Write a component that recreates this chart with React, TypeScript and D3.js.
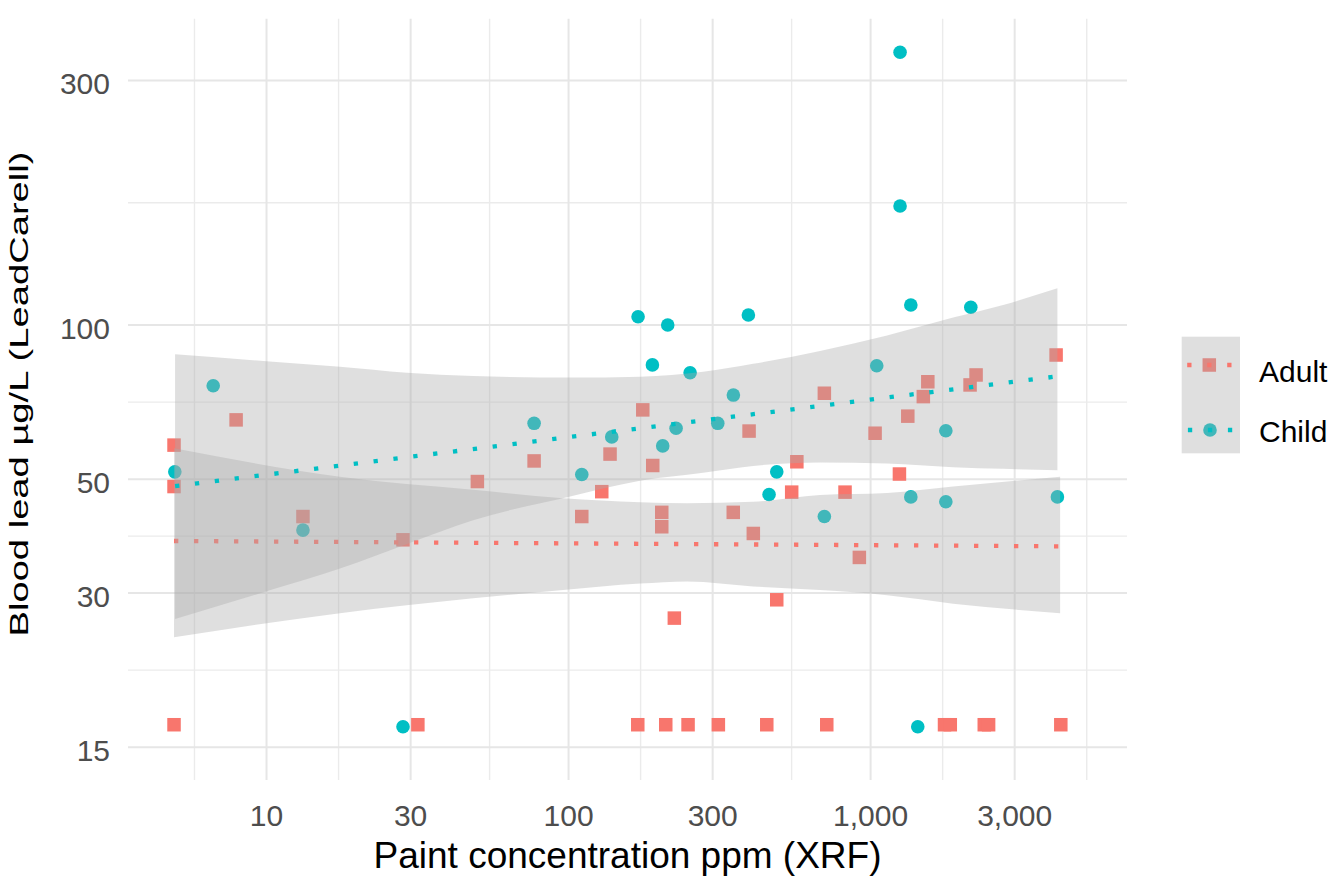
import React from 'react';
import * as d3 from 'd3';

// ---------- data ----------
const groups = ['Adult', 'Child'];
const colors = ['#F8766D', '#00BFC4'];

const xTicks = [10, 30, 100, 300, 1000, 3000];
const yTicks = [15, 30, 50, 100, 300];

const adultX = [7.93, 4.94, 4.94, 13.2, 28.3, 4.94, 31.7, 49.9, 76.9, 110.6, 128.8, 137.2, 176.1, 190, 203.5, 203.5, 224, 351, 396, 409, 489, 548, 570, 703, 823, 918, 1035, 1246, 1328, 1495, 1547, 2135, 2235, 4114, 169.5, 209.8, 248.7, 313.3, 453.2, 716, 1757, 1836, 2379, 2459, 4264];
const adultY = [65.3, 58.3, 48.4, 42.3, 38.1, 16.6, 16.6, 49.5, 54.3, 42.3, 47.3, 56.0, 68.3, 53.2, 43.1, 40.4, 26.8, 43.1, 62.1, 39.2, 29.1, 47.2, 54.1, 73.6, 47.2, 35.2, 61.5, 51.2, 66.4, 72.5, 77.5, 76.4, 79.9, 87.4, 16.6, 16.6, 16.6, 16.6, 16.6, 16.6, 16.6, 16.6, 16.6, 16.6, 16.6];

const childX = [6.66, 4.97, 13.2, 28.3, 76.9, 110.6, 139, 169.9, 189.5, 213, 205, 227, 252.6, 311.9, 351.3, 393.9, 461.2, 489, 703, 1048, 1252, 1252, 1359, 1359, 1433, 1775, 1775, 2147, 4155];
const childY = [76.1, 51.7, 39.8, 16.45, 64.3, 51.1, 60.5, 103.8, 83.6, 100, 58.1, 62.9, 80.7, 64.3, 73.0, 104.6, 46.7, 51.7, 42.3, 83.3, 340.5, 170.7, 109.4, 46.2, 16.45, 62.2, 45.2, 108.3, 46.2];

// fitted lines (straight in log-log): endpoints
const adultFitX = [4.94, 4264];
const adultFitY = [37.9, 37.0];
const childFitX = [4.98, 4155];
const childFitY = [48.5, 79.4];

// confidence bands
const adultBandX = [4.94, 17.5, 48.3, 95.9, 172.5, 246.9, 408.4, 680.3, 1134, 1876, 4242];
const adultBandLo = [24.6, 27.4, 29.3, 30.4, 31.3, 31.6, 30.9, 30.4, 29.7, 28.6, 27.4];
const adultBandHi = [57.5, 50.6, 47.7, 45.9, 45.1, 44.9, 45.2, 46.6, 47.0, 48.4, 50.6];

const childBandX = [4.98, 10.5, 17.5, 29.2, 48.3, 101.2, 172.5, 278.9, 408.4, 680.3, 1134, 1876, 2747, 4155];
const childBandLo = [26.7, 30.5, 33.5, 37.4, 41.6, 46.3, 49.7, 51.5, 53.1, 53.9, 53.7, 52.8, 52.4, 52.1];
const childBandHi = [87.7, 84.8, 82.9, 80.7, 79.5, 79.0, 79.3, 81.1, 84.0, 89.0, 95.4, 103.4, 109.4, 117.9];

// ---------- layout ----------
const W = 1340, H = 881;
const P = { left: 128, right: 1127, top: 18.75, bottom: 780 };
const FONT = "'Liberation Sans', Arial, Helvetica, sans-serif";

export default function App() {
  const x = d3.scaleLog().domain([3.478, 7063]).range([P.left, P.right]);
  const y = d3.scaleLog().domain([12.95, 395.9]).range([P.bottom, P.top]);

  const minorBetween = (ticks: number[]) => {
    const out: number[] = [];
    const r = ticks[1] / ticks[0];
    const ext = [ticks[0] / r, ...ticks, ticks[ticks.length - 1] * r];
    for (let i = 0; i < ext.length - 1; i++) out.push(Math.sqrt(ext[i] * ext[i + 1]));
    return out;
  };
  const [xd0, xd1] = x.domain();
  const [yd0, yd1] = y.domain();
  const xMinor = minorBetween(xTicks).filter(v => v > xd0 && v < xd1);
  const yMinor = minorBetween(yTicks).filter(v => v > yd0 && v < yd1);

  const fmt = d3.format(',');

  const area = d3.area<[number, number, number]>()
    .x(d => x(d[0]))
    .y0(d => y(d[1]))
    .y1(d => y(d[2]))
    .curve(d3.curveMonotoneX);
  const line = d3.line<[number, number]>().x(d => x(d[0])).y(d => y(d[1]));

  const adultBand = adultBandX.map((v, i) => [v, adultBandLo[i], adultBandHi[i]] as [number, number, number]);
  const childBand = childBandX.map((v, i) => [v, childBandLo[i], childBandHi[i]] as [number, number, number]);
  const adultFit = adultFitX.map((v, i) => [v, adultFitY[i]] as [number, number]);
  const childFit = childFitX.map((v, i) => [v, childFitY[i]] as [number, number]);

  const bandFill = '#AAAAAA';
  const bandOpacity = 0.38;
  const dash = '4.3 15.7';
  const sq = 13.5;
  const rad = 6.8;

  return (
    <svg width={W} height={H} style={{ position: 'absolute', left: 0, top: 0, background: '#fff' }} fontFamily={FONT}>
      <rect x={0} y={0} width={W} height={H} fill="#fff" />
      {/* minor grid */}
      {xMinor.map((v, i) => (
        <line key={'xm' + i} x1={x(v)} x2={x(v)} y1={P.top} y2={P.bottom} stroke="#EBEBEB" strokeWidth={1.4} />
      ))}
      {yMinor.map((v, i) => (
        <line key={'ym' + i} x1={P.left} x2={P.right} y1={y(v)} y2={y(v)} stroke="#EBEBEB" strokeWidth={1.4} />
      ))}
      {/* major grid */}
      {xTicks.map((v, i) => (
        <line key={'xM' + i} x1={x(v)} x2={x(v)} y1={P.top} y2={P.bottom} stroke="#E6E6E6" strokeWidth={2} />
      ))}
      {yTicks.map((v, i) => (
        <line key={'yM' + i} x1={P.left} x2={P.right} y1={y(v)} y2={y(v)} stroke="#E6E6E6" strokeWidth={2} />
      ))}

      {/* points */}
      {adultX.map((v, i) => (
        <rect key={'a' + i} x={x(v) - sq / 2} y={y(adultY[i]) - sq / 2} width={sq} height={sq} fill={colors[0]} />
      ))}
      {childX.map((v, i) => (
        <circle key={'c' + i} cx={x(v)} cy={y(childY[i])} r={rad} fill={colors[1]} />
      ))}

      {/* smooths */}
      <path d={area(adultBand) || ''} fill={bandFill} fillOpacity={bandOpacity} />
      <path d={line(adultFit) || ''} fill="none" stroke={colors[0]} strokeWidth={4.3} strokeDasharray={dash} />
      <path d={area(childBand) || ''} fill={bandFill} fillOpacity={bandOpacity} />
      <path d={line(childFit) || ''} fill="none" stroke={colors[1]} strokeWidth={4.3} strokeDasharray={dash} />

      {/* axis tick labels */}
      {xTicks.map((v, i) => (
        <text key={'xt' + i} x={x(v)} y={826} textAnchor="middle" fontSize={30} fill="#4D4D4D">{fmt(v)}</text>
      ))}
      {yTicks.map((v, i) => (
        <text key={'yt' + i} x={110} y={y(v) + 14} textAnchor="end" fontSize={30} fill="#4D4D4D">{fmt(v)}</text>
      ))}

      {/* axis titles */}
      <text x={(P.left + P.right) / 2} y={868} textAnchor="middle" fontSize={37} fill="#000">Paint concentration ppm (XRF)</text>
      <text transform={`translate(28.3, 394) rotate(-90)`} textAnchor="middle" fontSize={25.6} fill="#000"
        textLength={485} lengthAdjust="spacingAndGlyphs">Blood lead µg/L (LeadCarell)</text>

      {/* legend */}
      <g>
        <rect x={1209.3 - sq / 2} y={365 - sq / 2} width={sq} height={sq} fill={colors[0]} />
        <circle cx={1210} cy={430} r={rad} fill={colors[1]} />
        <rect x={1181.7} y={336.7} width={58.3} height={116.6} fill={bandFill} fillOpacity={bandOpacity} />
        <line x1={1187.2} x2={1233} y1={365} y2={365} stroke={colors[0]} strokeWidth={4.3} strokeDasharray={dash} />
        <line x1={1187.9} x2={1233.7} y1={430} y2={430} stroke={colors[1]} strokeWidth={4.3} strokeDasharray={dash} />
        {groups.map((g, i) => (
          <text key={g} x={1259} y={i === 0 ? 381.7 : 441.7} fontSize={30} fill="#000">{g}</text>
        ))}
      </g>
    </svg>
  );
}
